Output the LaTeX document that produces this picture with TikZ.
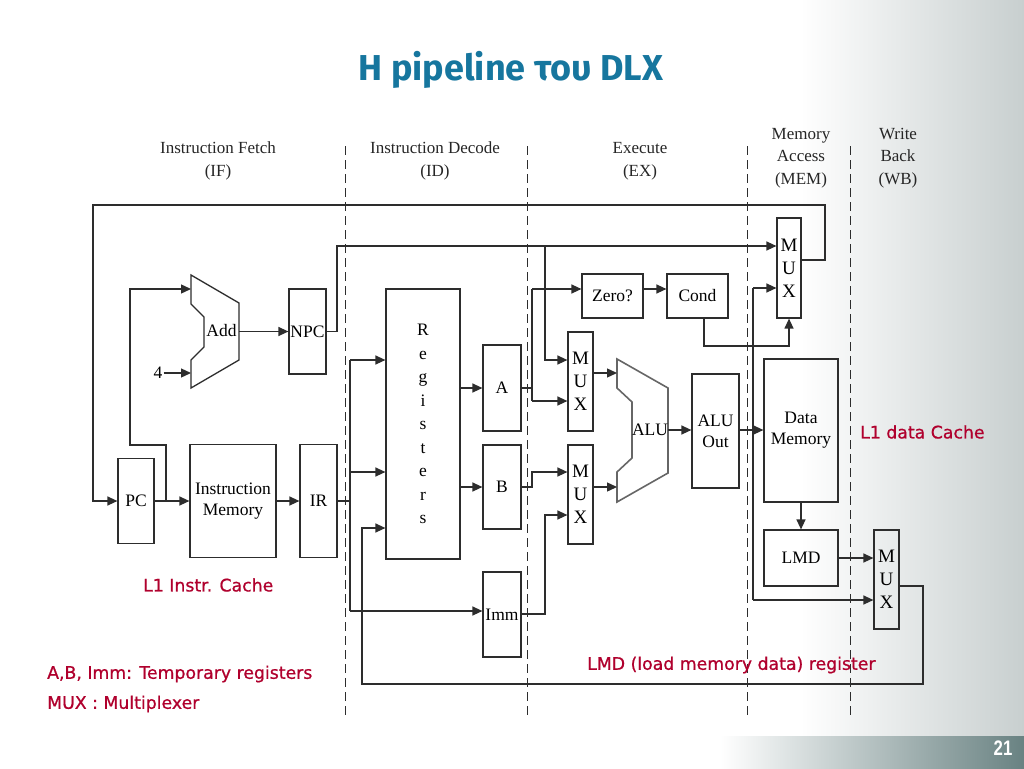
\documentclass[tikz,border=0pt]{standalone}
\usepackage{fontspec}
\setmainfont{Liberation Serif}
\newfontfamily\redfont[FakeBold=0.8]{DejaVu Sans}
\newfontfamily\titlefont{Fira Sans}
\newfontfamily\numfont{Liberation Sans}
\usetikzlibrary{arrows.meta,calc}
\definecolor{wirec}{RGB}{45,45,45}
\definecolor{redtxt}{RGB}{176,0,45}
\definecolor{titleblue}{RGB}{22,118,158}
\definecolor{bggrey}{RGB}{200,207,207}
\definecolor{bandgrey}{RGB}{105,130,130}
\begin{document}
\begin{tikzpicture}[x=1pt,y=-1pt,
  box/.style={draw=wirec,line width=1.2pt,inner sep=0pt,font=\fontsize{17.5}{21}\selectfont,align=center},
  mux/.style={box,minimum width=25pt,minimum height=99pt,font=\fontsize{19}{23}\selectfont},
  wire/.style={draw=wirec,line width=1.3pt},
  arr/.style={wire,-{Triangle[length=10pt,width=9pt]}},
  stage/.style={draw=wirec,line width=0.9pt,dash pattern=on 9pt off 5pt},
  hdr/.style={font=\fontsize{17}{22.5}\selectfont,align=center,text=black!85},
  txt/.style={font=\fontsize{17.5}{21}\selectfont,inner sep=1pt},
  redlbl/.style={font=\redfont\fontsize{17.3}{19}\selectfont,text=redtxt,anchor=west,inner sep=0pt},
  shapeline/.style={draw=wirec,line width=1.3pt}
]
\useasboundingbox (0,0) rectangle (1024,768);
\fill[white] (0,0) rectangle (1024,768);
\shade[left color=white,right color=bggrey] (800,0) rectangle (1024,736);
\shade[left color=white,right color=bandgrey] (720,736) rectangle (1024,768);

% title and page number
\node[font=\titlefont\bfseries\fontsize{36}{40}\selectfont,text=titleblue] (title) at (511,70) {H pipeline του DLX};
\node[font=\numfont\bfseries\fontsize{21}{22}\selectfont,text=white] (pnum) at (1003,748) {\scalebox{0.8}[1]{21}};

% stage separators
\draw[stage] (345,146) -- (345,716);
\draw[stage] (527,146) -- (527,716);
\draw[stage] (747,146) -- (747,716);
\draw[stage] (850,146) -- (850,716);

% headers
\node[hdr] (hIF) at (218,161) {Instruction Fetch\\(IF)};
\node[hdr] (hID) at (435,161) {Instruction Decode\\(ID)};
\node[hdr] (hEX) at (640,161) {Execute\\(EX)};
\node[hdr] (hMEM) at (801,158) {Memory\\Access\\(MEM)};
\node[hdr] (hWB) at (898,158) {Write\\Back\\(WB)};

% boxes
\node[box,minimum width=37pt,minimum height=85pt] (NPC) at (307.5,331.5) {NPC};
\node[box,minimum width=36pt,minimum height=85pt] (PC) at (136,501) {PC};
\node[box,minimum width=86pt,minimum height=113pt] (IM) at (233,501) {Instruction\\Memory};
\node[box,minimum width=37pt,minimum height=113pt] (IR) at (318.5,501) {IR};
\node[box,minimum width=74pt,minimum height=270pt,font=\fontsize{17.5}{23.5}\selectfont] (REG) at (423,424) {R\\e\\g\\i\\s\\t\\e\\r\\s};
\node[box,minimum width=38pt,minimum height=86pt] (A) at (502,388) {A};
\node[box,minimum width=38pt,minimum height=84pt] (B) at (502,487) {B};
\node[box,minimum width=38pt,minimum height=85pt] (IMM) at (502,614.5) {Imm};
\node[box,minimum width=61pt,minimum height=44pt] (ZERO) at (612.5,296) {Zero?};
\node[box,minimum width=61pt,minimum height=44pt] (COND) at (697.5,296) {Cond};
\node[mux] (MUX1) at (580.5,381.5) {M\\U\\X};
\node[mux] (MUX2) at (580.5,494.5) {M\\U\\X};
\node[box,minimum width=47pt,minimum height=114pt] (ALUO) at (715.5,431) {ALU\\Out};
\node[box,minimum width=74pt,minimum height=143pt] (DM) at (801,430.5) {Data\\Memory};
\node[box,minimum width=74pt,minimum height=56pt] (LMD) at (801,558) {LMD};
\node[mux,minimum width=24pt,minimum height=100pt] (MUX3) at (789,268) {M\\U\\X};
\node[mux] (MUX4) at (886.5,579.5) {M\\U\\X};

% Add unit
\draw[shapeline] (191,275) -- (239,303) -- (239,360) -- (191,388) -- (191,360) -- (204,347) -- (204,317) -- (191,304) -- cycle;
\node[txt] (ADD) at (221.5,331) {Add};
\coordinate (addin1) at (191,289);
\coordinate (addin2) at (191,373);
\coordinate (addout) at (239,331.5);
\node[txt] (four) at (158,373) {4};

% ALU unit
\draw[draw=black!60,line width=1.6pt] (617,359) -- (668,388) -- (668,473) -- (617,502) -- (617,472) -- (632,458) -- (632,402) -- (617,388) -- cycle;
\node[txt,inner sep=0pt] (ALU) at (650,430) {ALU};
\coordinate (aluin1) at (617,373);
\coordinate (aluin2) at (617,487);
\coordinate (aluout) at (668,430);

% IF stage wires
\draw[arr] (four.east) -- (addin2);
\draw[arr] (addout) -- (NPC.west |- addout);
\coordinate (j1) at (166,501);
\draw[arr] (j1) -- (166,445) -- (130,445) -- (130,289) -- (addin1);
\draw[arr] (PC.east) -- (IM.west);
\draw[arr] (IM.east) -- (IR.west);
\coordinate (m3out) at (801,260);
\draw[arr] (m3out) -- (825,260) -- (825,205) -- (93,205) -- (93,501) -- (PC.west);
\draw[arr] (NPC.east) -- (337,331.5) -- (337,246) -- (MUX3.west |- 0,246);
\draw[arr] (545,246) -- (545,360) -- (MUX1.west |- 0,360);

% ID stage wires
\draw[wire] (IR.east) -- (350,501);
\draw[wire] (350,360) -- (350,611);
\draw[arr] (350,360) -- (REG.west |- 0,360);
\draw[arr] (350,472) -- (REG.west |- 0,472);
\draw[arr] (350,611) -- (IMM.west |- 0,611);
\draw[arr] (MUX4.east |- 0,586) -- (923,586) -- (923,684) -- (362,684) -- (362,528) -- (REG.west |- 0,528);
\draw[arr] (REG.east |- A.west) -- (A.west);
\draw[arr] (REG.east |- B.west) -- (B.west);

% EX stage wires
\draw[wire] (A.east) -- (532,388);
\draw[wire] (532,289) -- (532,401);
\draw[arr] (532,289) -- (ZERO.west |- 0,289);
\draw[arr] (532,401) -- (MUX1.west |- 0,401);
\draw[arr] (B.east) -- (532,487) -- (532,472) -- (MUX2.west |- 0,472);
\draw[arr] (IMM.east |- 0,614) -- (545,614) -- (545,515) -- (MUX2.west |- 0,515);
\draw[arr] (MUX1.east |- aluin1) -- (aluin1);
\draw[arr] (MUX2.east |- aluin2) -- (aluin2);
\draw[arr] (aluout) -- (ALUO.west |- aluout);
\draw[arr] (ZERO.east |- 0,289) -- (COND.west |- 0,289);

% MEM / WB wires
\draw[arr] (ALUO.east |- 0,430) -- (DM.west |- 0,430);
\draw[wire] (753,288) -- (753,600);
\draw[arr] (753,288) -- (MUX3.west |- 0,288);
\draw[arr] (753,600) -- (MUX4.west |- 0,600);
\draw[arr] (COND.south -| 704,0) -- (704,346) -- (789,346) -- (MUX3.south);
\draw[arr] (DM.south) -- (LMD.north);
\draw[arr] (LMD.east) -- (MUX4.west |- LMD.east);

% red annotations
\node[redlbl] (L1D) at (860,432) {L1 data Cache};
\node[redlbl] (L1I) at (143,585) {L1 Instr. Cache};
\node[redlbl] (TMP) at (47,674) {A,B, Imm: Temporary registers};
\node[redlbl] (MUXL) at (47,704) {MUX : Multiplexer};
\node[redlbl] (LMDL) at (587,665) {LMD (load memory data) register};
\end{tikzpicture}
\end{document}
